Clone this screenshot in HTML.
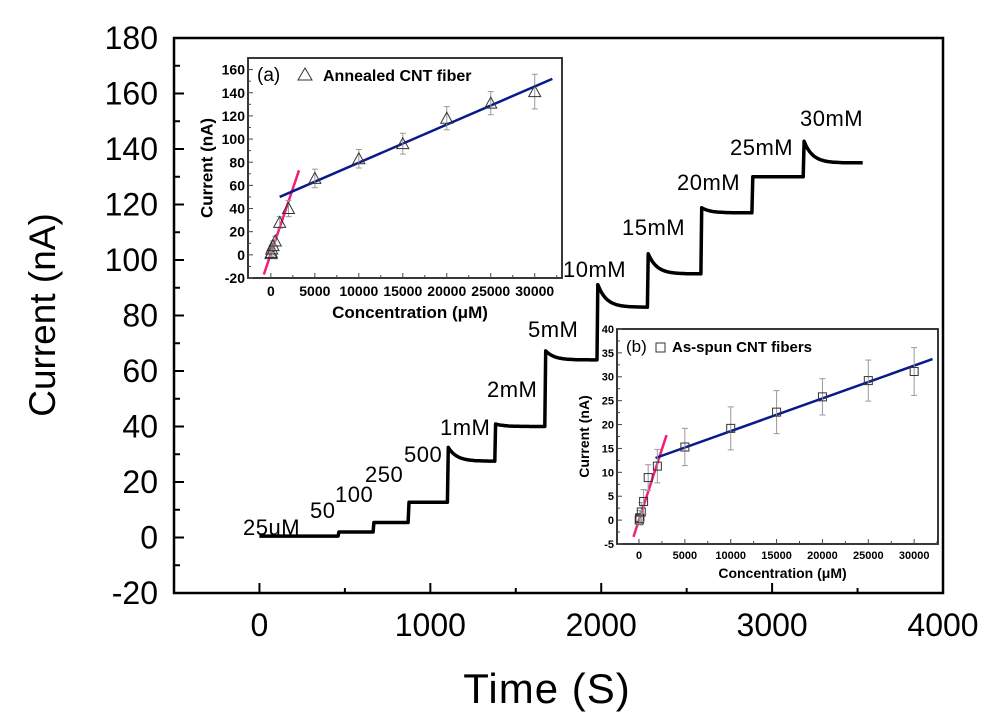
<!DOCTYPE html>
<html><head><meta charset="utf-8"><style>
body{margin:0;background:#fff}
svg{display:block;font-family:"Liberation Sans",Arial,sans-serif}
</style></head><body>
<svg id="chart" width="1000" height="718" viewBox="0 0 1000 718"></svg>
<script>
// main trace: step times (s), peak currents and plateau currents (nA)
const stepTimes=[0,460,665,870,1100,1377,1670,1975,2270,2583,2882,3182];
const stepPeaks=[0.5,2,5.4,12.7,33,41,67.6,92,103,119,130,143.6];
const stepLevels=[0.5,2,5.4,12.7,27.5,40,64,83,95,117,130,135];
const endTime=3530;
const stepLabels=["25uM","50","100","250","500","1mM","2mM","5mM","10mM","15mM","20mM","25mM","30mM"];
const mainXTicks=[0,1000,2000,3000,4000];
const mainYTicks=[-20,0,20,40,60,80,100,120,140,160,180];
// inset a
const concA=[25,50,100,250,500,1000,2000,5000,10000,15000,20000,25000,30000];
const valA=[1,2,5,8,12,28,40,66,83,96,118,131,141];
const errA=[3,3,3,4,4,5,7,8,8,9,10,10,15];
const fitA1=[[-800,-17],[3200,73]];
const fitA2=[[1000,50],[32000,152]];
// inset b
const concB=[25,50,100,250,500,1000,2000,5000,10000,15000,20000,25000,30000];
const valB=[0,0.3,0.5,1.7,3.9,8.9,11.3,15.3,19.2,22.6,25.8,29.2,31.1];
const errB=[1,1,1.5,2,2.5,2.7,3.5,3.9,4.5,4.5,3.8,4.3,5];
const fitB1=[[-600,-3.5],[3000,17.8]];
const fitB2=[[1800,13],[32000,33.7]];

const svg=document.getElementById('chart');
const NS='http://www.w3.org/2000/svg';
function mk(tag,at,parent){const e=document.createElementNS(NS,tag);for(const k in at)e.setAttribute(k,at[k]);(parent||svg).appendChild(e);return e;}
function txt(s,at,parent){const e=mk('text',at,parent);e.textContent=s;return e;}

// ---- main axes
const X=t=>174+(t+500)/4500*(943-174);
const Y=v=>593-(v+20)/200*(593-38);
let el;
el=mk('rect',{x:174,y:38,width:769,height:555,fill:'none',stroke:'#000','stroke-width':2.5});


mainYTicks.forEach((v,i)=>{
  mk('line',{x1:174,x2:184,y1:Y(v),y2:Y(v),stroke:'#000','stroke-width':2});
  if(i<mainYTicks.length-1)mk('line',{x1:174,x2:180,y1:Y(v+10),y2:Y(v+10),stroke:'#000','stroke-width':2});
  el=txt(String(v),{x:158,y:Y(v)+11,'text-anchor':'end','font-size':32});
  
  
});
mainXTicks.forEach((v,i)=>{
  mk('line',{x1:X(v),x2:X(v),y1:593,y2:583,stroke:'#000','stroke-width':2});
  mk('line',{x1:X(v-500),x2:X(v-500),y1:593,y2:588,stroke:'#000','stroke-width':2});
  el=txt(String(v),{x:X(v),y:636,'text-anchor':'middle','font-size':32});
  
  
});
el=txt('Current (nA)',{x:0,y:0,'text-anchor':'middle','font-size':37,transform:'translate(55,315) rotate(-90)'});


el=txt('Time (S)',{x:547,y:703,'text-anchor':'middle','font-size':42,'letter-spacing':1});



// trace
let pts=[[stepTimes[0],stepLevels[0]]];
for(let i=0;i<stepTimes.length;i++){
  const t0=stepTimes[i];
  const tEnd=i+1<stepTimes.length?stepTimes[i+1]:endTime;
  if(i>0){pts.push([t0,stepLevels[i-1]]);}
  const p=stepPeaks[i],l=stepLevels[i];
  for(let k=0;k<=30;k++){
    const t=t0+5+(tEnd-t0-5)*k/30;
    const v=l+(p-l)*Math.exp(-(t-t0)/50);
    pts.push([t,v]);
  }
}
el=mk('path',{d:pts.map((p,i)=>(i?'L':'M')+X(p[0]).toFixed(1)+','+Y(p[1]).toFixed(1)).join(''),fill:'none',stroke:'#000','stroke-width':3.5,'stroke-linejoin':'round'});



// step labels
const labelPos=[[243,535],[310,518],[335,502],[365,482],[404,462],[440,435],[487,397],[528,337],[563,277],[622,235],[677,190],[730,155],[800,126]];
stepLabels.forEach((s,i)=>{
  el=txt(s,{x:labelPos[i][0],y:labelPos[i][1],'font-size':22,'letter-spacing':0.5});
  
  
});

// ---- inset builder
function inset(cfg){
  const g=mk('g',{});
  
  
  const {x0,x1,y0,y1,xmin,xmax,ymin,ymax}=cfg;
  const ix=c=>x0+(c-xmin)/(xmax-xmin)*(x1-x0);
  const iy=v=>y1-(v-ymin)/(ymax-ymin)*(y1-y0);
  mk('rect',{x:x0,y:y0,width:x1-x0,height:y1-y0,fill:'#fff',stroke:'#222','stroke-width':1.8},g);
  cfg.yt.forEach((v,i)=>{
    mk('line',{x1:x0,x2:x0+5,y1:iy(v),y2:iy(v),stroke:'#444','stroke-width':1},g);
    if(iy(v+cfg.ys/2)>y0+1) mk('line',{x1:x0,x2:x0+3,y1:iy(v+cfg.ys/2),y2:iy(v+cfg.ys/2),stroke:'#444','stroke-width':1},g);
    el=txt(String(v),{x:x0-3,y:iy(v)+cfg.fs*0.36,'text-anchor':'end','font-size':cfg.fs,'font-weight':'bold'},g);
    
    
  });
  [0,5000,10000,15000,20000,25000,30000].forEach(v=>{
    mk('line',{x1:ix(v),x2:ix(v),y1:y1,y2:y1-5,stroke:'#444','stroke-width':1},g);
    mk('line',{x1:ix(v+2500),x2:ix(v+2500),y1:y1,y2:y1-3,stroke:'#444','stroke-width':1},g);
    el=txt(String(v),{x:ix(v),y:y1+cfg.fs+4,'text-anchor':'middle','font-size':cfg.fs,'font-weight':'bold'},g);
    
    
  });
  el=txt('Current (nA)',{'text-anchor':'middle','font-size':cfg.tfs,'font-weight':'bold',transform:`translate(${x0-cfg.fs*2.55},${(y0+y1)/2}) rotate(-90)`},g);
  
  
  el=txt('Concentration (\u03bcM)',{x:(x0+x1)/2+5,y:y1+cfg.fs+cfg.tfs+9,'text-anchor':'middle','font-size':cfg.tfs,'font-weight':'bold'},g);
  
  
  // fits
  [[cfg.f1,'#f0207a'],[cfg.f2,'#0a1a8a']].forEach(([f,c])=>{
    el=mk('line',{x1:ix(f[0][0]),y1:iy(f[0][1]),x2:ix(f[1][0]),y2:iy(f[1][1]),stroke:c,'stroke-width':2.5},g);
    
    
  });
  cfg.conc.forEach((c,i)=>{
    const cx=ix(c),cy=iy(cfg.val[i]),e=cfg.err[i];
    mk('line',{x1:cx,x2:cx,y1:iy(cfg.val[i]+e),y2:iy(cfg.val[i]-e),stroke:'#999','stroke-width':1},g);
    mk('line',{x1:cx-3,x2:cx+3,y1:iy(cfg.val[i]+e),y2:iy(cfg.val[i]+e),stroke:'#999','stroke-width':1},g);
    mk('line',{x1:cx-3,x2:cx+3,y1:iy(cfg.val[i]-e),y2:iy(cfg.val[i]-e),stroke:'#999','stroke-width':1},g);
    if(cfg.tri) el=mk('path',{d:`M${cx},${cy-6}L${cx+6},${cy+5}L${cx-6},${cy+5}Z`,fill:'none',stroke:'#333','stroke-width':1},g);
    else el=mk('rect',{x:cx-4,y:cy-4,width:8,height:8,fill:'none',stroke:'#333','stroke-width':1},g);
    
    
  });
  // legend
  el=txt(cfg.tag,{x:x0+9,y:y0+23,'font-size':cfg.tagfs},g);
  
  
  if(cfg.tri) mk('path',{d:`M${x0+57},${y0+10}L${x0+64},${y0+22}L${x0+50},${y0+22}Z`,fill:'none',stroke:'#333','stroke-width':1},g);
  else mk('rect',{x:x0+39,y:y0+14,width:9,height:9,fill:'none',stroke:'#333','stroke-width':1},g);
  el=txt(cfg.leg,{x:x0+cfg.legx,y:y0+23,'font-size':cfg.legfs,'font-weight':'bold'},g);
  
  
}
inset({name:'inset-a',x0:248,x1:562,y0:58,y1:278,xmin:-2600,xmax:33100,ymin:-20,ymax:170,
  yt:[-20,0,20,40,60,80,100,120,140,160],ys:20,fs:14,tfs:17,tagfs:19,legfs:16,conc:concA,val:valA,err:errA,f1:fitA1,f2:fitA2,tri:true,
  tag:'(a)',leg:'Annealed CNT fiber',legx:75});
inset({name:'inset-b',x0:617,x1:938,y0:329,y1:544,xmin:-2400,xmax:32600,ymin:-5,ymax:40,
  yt:[-5,0,5,10,15,20,25,30,35,40],ys:5,fs:11,tfs:14,tagfs:17,legfs:15,conc:concB,val:valB,err:errB,f1:fitB1,f2:fitB2,tri:false,
  tag:'(b)',leg:'As-spun CNT fibers',legx:55});
</script>
</body></html>
